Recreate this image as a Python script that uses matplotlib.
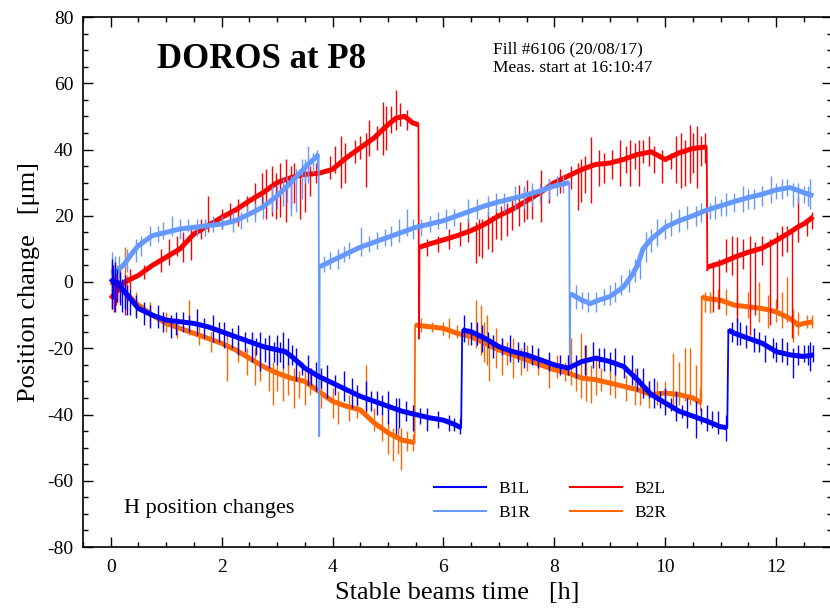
import matplotlib
matplotlib.use("Agg")
import matplotlib.pyplot as plt
from matplotlib.ticker import MultipleLocator

plt.rcParams['font.family'] = ['Liberation Serif', 'DejaVu Serif']
plt.rcParams['axes.unicode_minus'] = False

# ---------------- data ----------------
B1L_t = [0, 0.05, 0.12, 0.2, 0.3, 0.4, 0.5, 0.75, 1.0, 1.25, 1.5, 1.75, 2.0, 2.25, 2.5, 2.75, 3.0, 3.15, 3.3, 3.5,
         3.75, 4.0, 4.25, 4.5, 4.75, 5.0, 5.25, 5.5, 5.75, 6.0, 6.2, 6.32, 6.34, 6.5, 6.75, 7.0, 7.25, 7.5, 7.75, 8.0,
         8.25, 8.5, 8.75, 9.0, 9.25, 9.5, 9.75, 10.0, 10.25, 10.5, 10.75, 11.0, 11.12, 11.14, 11.25, 11.5, 11.75,
         12.0, 12.25, 12.5, 12.67]
B1L_y = [1, 0, 0, -2, -4, -6, -8, -10, -11.5, -12, -12.5, -13.5, -15, -16.5, -18, -19.5, -20.5, -21, -23, -26,
         -28.5, -30.5, -32.5, -34.5, -36, -37.5, -39, -40, -41, -41.7, -43, -44, -14.5, -15, -17, -19.5, -21, -22,
         -23.5, -25, -26, -24, -23, -24, -25.5, -29.5, -34, -36.5, -39, -40.5, -42, -43.7, -44, -14.5, -15.5, -17,
         -18.5, -21, -22, -22.5, -22]

B1R_t = [0, 0.1, 0.25, 0.4, 0.5, 0.75, 1.0, 1.25, 1.5, 1.75, 2.0, 2.25, 2.5, 2.75, 3.0, 3.25, 3.5, 3.75, 3.76, 3.77,
         4.0, 4.25, 4.5, 4.75, 5.0, 5.25, 5.5, 5.75, 6.0, 6.25, 6.5, 6.75, 7.0, 7.25, 7.5, 7.75, 8.0, 8.27, 8.28,
         8.29, 8.5, 8.65, 8.8, 9.0, 9.25, 9.4, 9.5, 9.6, 9.75, 10.0, 10.25, 10.5, 10.75, 11.0, 11.25, 11.5, 11.75,
         12.0, 12.25, 12.5, 12.67]
B1R_y = [3, 3, 5.5, 9, 11, 14, 15, 16, 16.5, 17, 17.5, 18.5, 20.5, 22.7, 26, 30, 34.5, 38.5, -46.5, 4.6,
         6.5, 8.5, 10.5, 12, 13.5, 15, 16.5, 17.5, 18.5, 20, 21.5, 23, 24.2, 25.2, 26.3, 27.5, 29, 30, -24.5,
         -3.5, -5.5, -6.5, -5.5, -4.4, -1.5, 2, 5, 10, 13, 16.5, 18.5, 20, 21.7, 23, 24.3, 25.5, 26.5,
         27.8, 28.5, 27, 26]

B2L_t = [0, 0.1, 0.25, 0.5, 0.75, 1.0, 1.25, 1.5, 1.75, 2.0, 2.25, 2.5, 2.75, 3.0, 3.25, 3.5, 3.75, 4.0, 4.25, 4.5,
         4.75, 5.0, 5.15, 5.3, 5.45, 5.55, 5.56, 5.57, 5.75, 6.0, 6.25, 6.5, 6.75, 7.0, 7.25, 7.5, 7.75, 8.0, 8.25,
         8.5, 8.75, 9.0, 9.25, 9.5, 9.75, 10.0, 10.25, 10.5, 10.75, 10.76, 10.78, 11.0, 11.25, 11.5, 11.75, 12.0,
         12.25, 12.4, 12.5, 12.67]
B2L_y = [-5, -3, 0, 2, 5, 7.5, 10, 14.5, 17, 19.5, 21.7, 24.5, 27, 30, 31.5, 32.5, 32.8, 34, 37.5, 40.5,
         43.5, 47.5, 49.5, 50, 48, 47.5, -17, 10.5, 11.5, 12.7, 14, 15.5, 17.5, 20, 22, 24.5, 27, 30, 32,
         34, 35.5, 35.9, 37, 38.5, 39.3, 37, 39, 40.3, 40.8, 3.6, 4.6, 5.7, 7.5, 9, 10.2, 12.5,
         15, 16.7, 17.5, 19.7]

B2R_t = [0, 0.1, 0.25, 0.5, 0.75, 1.0, 1.25, 1.5, 1.75, 2.0, 2.25, 2.5, 2.75, 3.0, 3.25, 3.5, 3.75, 4.0, 4.25, 4.5,
         4.75, 5.0, 5.25, 5.48, 5.49, 5.75, 6.0, 6.25, 6.5, 6.75, 7.0, 7.25, 7.5, 7.75, 8.0, 8.25, 8.5, 8.75, 9.0,
         9.25, 9.5, 9.75, 10.0, 10.25, 10.5, 10.65, 10.66, 10.75, 11.0, 11.25, 11.5, 11.75, 12.0, 12.25, 12.4,
         12.5, 12.67]
B2R_y = [0, -1, -3, -7, -10, -12.5, -14, -15.5, -17, -18.5, -20.5, -23, -25.5, -27.5, -29, -30, -33, -36, -37.5,
         -38.6, -42.5, -45.5, -47.7, -48.5, -13, -13.5, -14, -15.5, -16.5, -18.5, -20.5, -22, -23.5, -25, -26.5,
         -27.5, -29, -29.5, -30.5, -31.5, -32.5, -34, -33.5, -34, -35, -36.5, -4.5, -5, -5.5, -7, -7.5, -8, -9,
         -11, -13, -12.5, -12]

# spikes / noise excursions: time, low end, high end
B1L_spk_t = [0.02, 0.05, 0.08, 0.12, 0.16, 0.2, 0.25, 0.3, 0.35, 0.45, 0.6, 0.85, 1.08, 1.3, 1.55, 1.85, 2.05,
             2.3, 2.55, 2.7, 2.85, 3.0, 3.1, 3.2, 3.35, 3.55, 3.7, 3.9, 4.2, 4.35, 4.6, 4.8, 5.0, 5.15, 5.2, 5.45,
             5.7, 6.1, 6.3, 6.38, 6.5, 6.7, 6.9, 7.2, 7.45, 7.7, 8.1, 8.4, 8.55, 8.7, 8.9, 9.1, 9.4, 9.6, 9.8,
             10.0, 10.2, 10.4, 10.55, 10.75, 10.95, 11.1, 11.2, 11.3, 11.45, 11.6, 11.8, 12.0, 12.2, 12.3, 12.5,
             12.62, 12.67,
             0.7, 0.95, 1.18, 1.42, 1.68, 1.95, 2.18, 2.42, 2.62, 2.78, 2.95, 3.05, 3.27, 3.45, 3.62, 3.8, 4.05,
             4.45, 4.7, 4.9, 5.33, 5.58, 5.9, 6.2, 6.6, 6.8, 7.05, 7.35, 7.6, 7.9, 8.25, 8.8, 9.0, 9.25, 9.5,
             9.7, 9.9, 10.1, 10.3, 10.65, 10.85, 11.35, 11.7, 11.95, 12.1, 12.4, 12.57]
B1L_spk_lo = [-8, -5, -9, -6, -7, -9, -8, -10, -10, -11, -13, -14, -17, -15, -16, -18, -20, -22, -24, -27, -26,
              -25, -26, -25, -30, -31, -33, -35, -36, -38, -39, -40, -43, -46, -44, -45, -45, -45, -46, -18, -19,
              -21, -23, -24, -26, -26, -28, -29, -28, -26, -27, -28, -31, -35, -38, -40, -42, -44, -47, -45, -46,
              -48, -18, -19, -20, -21, -24, -24, -25, -29, -24, -27, -24,
              -14, -15, -16, -15, -17, -18, -20, -21, -22, -24, -24, -24, -25, -28, -31, -32, -34, -37, -39, -40,
              -42, -43, -44, -45, -19, -20, -22, -24, -25, -27, -28, -26, -27, -29, -33, -35, -38, -39, -41, -43,
              -44, -19, -21, -23, -24, -25, -25]
B1L_spk_hi = [7, 5, 6, 4, 3, 1, 2, -1, -2, -4, -6, -7, -10, -9, -8, -10, -12, -13, -15, -15, -16, -16, -15, -17,
              -20, -22, -24, -25, -27, -29, -30, -33, -33, -35, -35, -37, -38, -40, -41, -10, -12, -13, -16, -16,
              -18, -20, -22, -22, -19, -18, -20, -20, -22, -26, -29, -32, -33, -35, -36, -37, -39, -40, -12, -11,
              -13, -14, -16, -18, -18, -20, -19, -18, -19,
              -7, -9, -9, -10, -11, -12, -14, -15, -17, -17, -18, -18, -19, -24, -26, -26, -28, -31, -33, -34,
              -36, -38, -39, -41, -12, -15, -17, -18, -19, -21, -22, -20, -21, -22, -26, -30, -33, -35, -37, -38,
              -39, -12, -15, -17, -17, -19, -19]

B1R_spk_t = [0.03, 0.08, 0.15, 0.3, 0.45, 0.7, 0.95, 1.1, 1.4, 1.7, 2.0, 2.35, 2.6, 2.9, 3.1, 3.25, 3.35, 3.45,
             3.56, 3.65, 3.85, 4.1, 4.3, 4.52, 4.8, 5.05, 5.2, 5.35, 5.6, 5.9, 6.2, 6.45, 6.8, 7.1, 7.45, 7.6,
             7.9, 8.15, 8.4, 8.6, 8.75, 9.0, 9.2, 9.45, 9.65, 9.85, 10.1, 10.4, 10.65, 10.9, 11.1, 11.4, 11.6,
             11.9, 12.1, 12.3, 12.5, 12.62,
             0.55, 0.85, 1.25, 1.55, 1.85, 2.2, 2.45, 2.75, 3.0, 3.18, 3.5, 3.72, 3.95, 4.2, 4.65, 4.95, 5.45,
             5.75, 6.05, 6.6, 6.95, 7.3, 7.75, 8.05, 8.5, 8.9, 9.1, 9.35, 9.55, 9.75, 10.0, 10.25, 10.55, 10.8,
             11.0, 11.25, 11.5, 11.75, 12.0, 12.2, 12.4, 12.58]
B1R_spk_lo = [-2, 0, 1, 3, 6, 11, 13, 14, 15, 14, 16, 16, 18, 21, 23, 20, 21, 25, 30, 33, 3, 4, 7, 8, 10, 11,
              12, 14, 14, 16, 17, 18, 20, 21, 22, 23, 25, 27, -8, -9, -9, -7, -4, 0, 6, 11, 14, 16, 18, 19, 20,
              21, 22, 24, 25, 22.7, 24, 22,
              8, 12, 13, 14, 15, 15, 18, 19, 22, 24, 30, 34, 4, 6, 9, 11, 13, 15, 16, 19, 21, 22, 24, 26, -8, -7,
              -6, -3, 1, 9, 13, 15, 17, 19, 20, 21, 22, 23, 25, 26, 24, 23]
B1R_spk_hi = [9, 8, 8, 10, 13, 17, 18, 20, 19, 19, 20, 21, 24, 29, 31, 32, 34, 37, 41, 39, 8, 10, 12, 16.7,
              15, 17, 19, 22, 19, 21, 22, 25, 26, 27, 29, 30, 31, 32, -1, -3, -3, -1, 2, 7, 15, 19, 21, 23, 24,
              26, 27, 29, 28, 32, 31, 30, 29, 31,
              14, 17, 19, 19, 20, 21, 23, 26, 29, 32, 37, 40, 9, 11, 14, 16, 19, 20, 22, 25, 27, 29, 30, 32, -3,
              -2, 0, 4, 9, 16, 19, 22, 23, 24, 25, 27, 28, 29, 30, 31, 30, 29]

B2L_spk_t = [0.02, 0.06, 0.1, 0.17, 0.25, 0.35, 0.6, 0.9, 1.05, 1.2, 1.3, 1.45, 1.62, 1.76, 2.0, 2.15, 2.3,
             2.45, 2.6, 2.73, 2.8, 2.9, 2.98, 3.05, 3.16, 3.25, 3.3, 3.42, 3.5, 3.6, 3.7, 3.95, 4.05, 4.15, 4.22,
             4.4, 4.5, 4.6, 4.65, 4.8, 4.91, 4.97, 5.05, 5.15, 5.22, 5.35, 5.7, 5.9, 6.1, 6.3, 6.45, 6.59, 6.65,
             6.7, 6.8, 6.87, 6.95, 7.04, 7.15, 7.24, 7.36, 7.45, 7.51, 7.6, 7.76, 7.9, 8.1, 8.3, 8.42, 8.48, 8.55,
             8.67, 8.81, 8.9, 9.05, 9.18, 9.3, 9.36, 9.45, 9.53, 9.6, 9.7, 9.8, 9.95, 10.1, 10.2, 10.28, 10.35,
             10.44, 10.5, 10.58, 10.65, 10.72, 10.87, 10.97, 11.1, 11.2, 11.29, 11.4, 11.53, 11.62, 11.75, 11.89,
             12.01, 12.1, 12.2, 12.28, 12.4, 12.55, 12.65]
B2L_spk_lo = [-8, -9, -7, -6, -10, -2, 1, 3, 5, 8, 6, 6.6, 13, 15, 16, 18, 17, 21, 20, 22, 19, 20, 19, 19.7,
              18, 22, 24, 19, 21, 26, 30, 31, 33, 28.4, 30, 36, 37, 28.8, 38, 40, 38.3, 40, 45, 46, 47, 46, 8, 9,
              10, 11, 12, 5.6, 8, 7.1, 10, 9.2, 13, 12.7, 14, 15.7, 17, 18, 19, 19, 18.2, 24, 27, 28, 21.7, 24.2,
              27, 24, 29, 30, 31, 29, 33, 29, 34, 29, 36, 35, 33, 30, 34, 30, 28.3, 29, 30, 33, 28.3, 35, 36,
              -9, -8, 3, 2, -12, 4, -16, -10, 5, -13, -8, 8, 9, -17, 12, 14, 16]
B2L_spk_hi = [5, 2, 3, 4, 1, 4, 5, 10, 13, 14, 15, 17, 19, 26, 22, 24, 25, 26, 30, 33, 34, 35, 33, 36, 37,
              35, 36, 34, 35, 35, 36, 38, 41, 44, 42, 43, 44, 45, 49, 47, 54.4, 53, 53, 58, 54, 52, 13, 14, 16,
              18, 19, 18, 19, 19, 21, 20, 22, 23, 24, 26, 29.3, 28, 30.8, 28, 33.8, 31, 34, 35, 36, 37, 38, 43.9,
              40, 39, 40, 42.9, 41, 42.9, 42, 43, 43, 44, 41, 40, 39, 44, 45, 43, 47.4, 45, 47, 44, 45,
              6, 7, 13, 14, 13.7, 13, 14, 12, 14, 13, 15, 17, 17, 16, 25.8, 19, 21]

B2R_spk_t = [0.02, 0.06, 0.12, 0.25, 0.3, 0.45, 0.7, 1.0, 1.2, 1.41, 1.6, 1.8, 2.1, 2.3, 2.45, 2.6, 2.7, 2.85,
             2.93, 3.0, 3.1, 3.2, 3.3, 3.4, 3.5, 3.6, 3.8, 4.0, 4.1, 4.3, 4.45, 4.6, 4.75, 4.9, 5.0, 5.1, 5.18,
             5.24, 5.35, 5.45, 5.6, 5.8, 6.0, 6.1, 6.25, 6.45, 6.59, 6.68, 6.74, 6.79, 6.83, 6.95, 7.05, 7.15,
             7.25, 7.4, 7.5, 7.7, 7.9, 8.05, 8.2, 8.3, 8.4, 8.48, 8.57, 8.67, 8.75, 8.85, 9.0, 9.1, 9.3, 9.45,
             9.55, 9.7, 9.85, 10.0, 10.15, 10.25, 10.35, 10.45, 10.55, 10.62, 10.72, 10.8, 10.95, 11.1, 11.3,
             11.5, 11.7, 11.85, 12.0, 12.1, 12.2, 12.3, 12.4, 12.55, 12.65]
B2R_spk_lo = [-5, -8, -6, -4, -6, -10, -13, -15, -17, -16, -19, -21, -30, -24, -28, -31, -30, -33, -37, -33,
              -36, -34, -38, -35, -37, -34, -38, -41, -43, -42, -41, -41, -45, -48, -52, -54, -52, -56.8, -51,
              -51, -15, -15, -16, -17, -17, -19, -20, -22, -24, -25, -30, -26, -28, -25, -29, -28, -27, -28, -32,
              -29, -30, -31, -33, -35, -36, -36.6, -34, -33, -34, -35, -36, -37, -37, -38, -37, -36, -38, -37,
              -36, -37, -37, -39, -9, -9.5, -8, -10, -10, -11, -12, -14, -12, -14, -12, -18, -16, -14, -14]
B2R_spk_hi = [6, 3, 5, 10.6, 2, -3, -6, -9, -11, -5.5, -13, -15, -16, -18, -20, -20, -21, -22, -24, -25, -25,
              -24, -26, -27, -27, -26, -30, -32, -33, -34, -34, -25, -38, -40, -42, -44, -44, -44, -45, -46, -11,
              -12, -12, -11, -13, -14, -5.4, -7, -12, -10, -17, -14, -17, -18, -17, -20, -19, -20, -23, -22, -24,
              -17, -25, -15.5, -19, -25, -22, -26, -27, -24, -28, -26, -29, -30, -30, -30, -21.5, -24, -20, -20,
              -25, -32, -3, -3, -2, -2, -4, -3, 0, -4, -5, -3, 1.6, -8, -9, -10, -10]

series_names = ['B1L', 'B1R', 'B2L', 'B2R']
series_colors = ['#0000FF', '#6699FF', '#FF0000', '#FF6600']

x_ticks = [0, 2, 4, 6, 8, 10, 12]
y_ticks = [-80, -60, -40, -20, 0, 20, 40, 60, 80]

# ---------------- figure ----------------
fig = plt.figure(figsize=(8.30, 6.12), dpi=100)
ax = fig.add_axes([83 / 830, 1 - 547 / 612, (831.5 - 83) / 830, (547 - 17) / 612])

data = {
    'B1L': (B1L_t, B1L_y, B1L_spk_t, B1L_spk_lo, B1L_spk_hi),
    'B1R': (B1R_t, B1R_y, B1R_spk_t, B1R_spk_lo, B1R_spk_hi),
    'B2L': (B2L_t, B2L_y, B2L_spk_t, B2L_spk_lo, B2L_spk_hi),
    'B2R': (B2R_t, B2R_y, B2R_spk_t, B2R_spk_lo, B2R_spk_hi),
}
zorders = {'B2R': 2, 'B2L': 3, 'B1R': 4, 'B1L': 5}
JUMP = 0.03  # consecutive samples closer than this are beam-dump steps (thin line)
for name, col in zip(series_names, series_colors):
    t, y, st, slo, shi = data[name]
    z = zorders[name]
    ax.vlines(st, slo, shi, colors=col, lw=1.0, zorder=z)
    start = 0
    for i in range(len(t) - 1):
        if t[i + 1] - t[i] < JUMP:
            ax.plot(t[i:i + 2], y[i:i + 2], color=col, lw=1.3, zorder=z)
            if i > start:
                ax.plot(t[start:i + 1], y[start:i + 1], color=col, lw=3.6,
                        solid_joinstyle='round', solid_capstyle='butt', zorder=z + 0.5)
            start = i + 1
    ax.plot(t[start:], y[start:], color=col, lw=3.6, solid_joinstyle='round',
            solid_capstyle='butt', zorder=z + 0.5)

ax.set_xlim(-0.5, 13.0)
ax.set_ylim(-80, 80)
ax.set_xticks(x_ticks)
ax.set_yticks(y_ticks)
ax.xaxis.set_minor_locator(MultipleLocator(0.5))
ax.yaxis.set_minor_locator(MultipleLocator(5))
ax.tick_params(which='both', direction='in', top=True, right=True, width=1.0, labelsize=14)
ax.tick_params(which='major', length=7)
ax.tick_params(which='minor', length=3.5)
ax.tick_params(axis='x', pad=9)
ax.tick_params(axis='y', pad=7)
for sp in ax.spines.values():
    sp.set_linewidth(1.2)

ax.set_xlabel('Stable beams time   [h]', fontsize=19)
ax.set_ylabel('Position change   [\u03bcm]', fontsize=19)
ax.xaxis.set_label_coords(0.5, -0.066)
ax.yaxis.set_label_coords(-0.058, 0.5)

fig.text(157 / 830, 1 - 68 / 612, 'DOROS at P8', fontsize=25, fontweight='bold', va='baseline', ha='left')
fig.text(493 / 830, 1 - 53 / 612, 'Fill #6106 (20/08/17)', fontsize=12.5, va='baseline', ha='left')
fig.text(493 / 830, 1 - 72.5 / 612, 'Meas. start at 16:10:47', fontsize=12.5, va='baseline', ha='left')
fig.text(124 / 830, 1 - 513 / 612, 'H position changes', fontsize=16, va='baseline', ha='left')

leg_handles = [plt.Line2D([], [], color=c, lw=1.5) for c in series_colors]
ax.legend(leg_handles, series_names, loc='center', bbox_to_anchor=(550 / 830, 1 - 501 / 612),
          bbox_transform=fig.transFigure, ncol=2, frameon=False, fontsize=12.5, handlelength=3.0,
          handletextpad=0.7, columnspacing=2.3, labelspacing=0.45, borderpad=0, borderaxespad=0)

fig.savefig('out.png', dpi=100)
